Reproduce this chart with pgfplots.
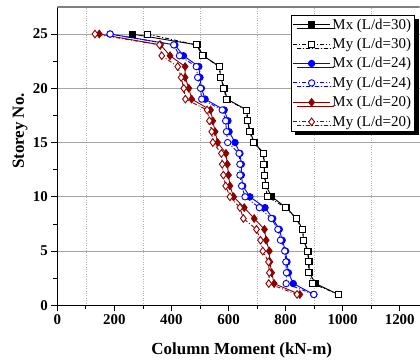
\documentclass[border=0pt]{standalone}
\usepackage{pgfplots}
\usepackage{pgfplotstable}
\pgfplotsset{compat=1.18}
\usepackage{fontspec}
\setmainfont{Liberation Serif}
\usetikzlibrary{shadows}
\definecolor{dred}{RGB}{140,0,0}
\definecolor{gblue}{RGB}{0,0,255}
\pgfplotstableread{
s mxa mya mxb myb mxc myc
1 985 986 899 899 850 840
2 905 895 827 802 760 741
3 883 881 810 803 751 743
4 882 881 805 801 745 740
5 879 877 800 797 743 720
6 863 862 788 782 732 712
7 860 858 778 773 726 698
8 839 837 755 750 690 652
9 802 800 728 708 655 640
10 752 737 675 658 618 605
11 731 729 650 646 605 590
12 727 726 645 640 600 582
13 725 723 645 640 596 578
14 724 722 640 637 591 575
15 690 688 623 597 562 545
16 676 674 602 593 553 541
17 668 667 598 590 545 533
18 664 662 585 578 537 525
19 595 592 518 506 471 449
20 586 584 505 502 461 443
21 572 571 500 492 448 434
22 569 567 496 487 448 422
23 511 510 442 428 395 366
24 490 487 412 408 362 358
25 262 315 185 185 147 132
}\data
\begin{document}
\begin{tikzpicture}
\begin{axis}[
  scale only axis, width=362.4bp, height=298.4bp,
  xmin=0, xmax=1270, ymin=0, ymax=27.5,
  axis x line*=bottom, axis y line*=left,
  axis line style={black, line width=0.8bp, -},
  xtick={0,200,...,1200}, ytick={0,5,...,25},
  minor x tick num=1, minor y tick num=1,
  tick align=outside, major tick length=6bp, minor tick length=4bp,
  tick style={black, line width=0.8bp},
  /pgf/number format/assume math mode=true,
  /pgf/number format/1000 sep={},
  tick label style={font=\bfseries\fontsize{15}{15}\selectfont},
  ymajorgrids, xminorgrids,
  major grid style={gray!70, line width=0.8bp},
  minor grid style={gray!60, dotted, line width=0.6bp},
  xlabel={Column Moment (kN-m)},
  ylabel={Storey No.},
  label style={font=\bfseries\fontsize{17}{17}\selectfont},
  xlabel style={at={(axis description cs:0.509,-0.151)}, anchor=center},
  ylabel style={at={(axis description cs:-0.103,0.584)}, anchor=center},
  legend style={at={(axis description cs:0.645,0.973)}, anchor=north west,
    font=\fontsize{15}{16}\selectfont, draw=black, fill=white,
    drop shadow={shadow xshift=4bp, shadow yshift=-4bp, fill=black, opacity=1},
    inner sep=1.5bp, row sep=3.6bp, legend cell align=left},
  legend image code/.code={\draw[mark repeat=2,mark phase=2] plot coordinates {(0cm,0cm)(0.65cm,0cm)(1.3cm,0cm)};},
  every axis plot/.append style={line width=0.9bp},
]
\addplot[black, mark=square*, mark size=3bp, mark options={solid, fill=black}] table[x=mxa, y=s]{\data};
\addlegendentry{Mx (L/d=30)}
\addplot[black, dash pattern=on 4pt off 2pt on 1pt off 2pt, mark=square*, mark size=3bp, mark options={solid, fill=white}] table[x=mya, y=s]{\data};
\addlegendentry{My (L/d=30)}
\addplot[gblue, mark=*, mark size=3.2bp, mark options={solid, fill=gblue}] table[x=mxb, y=s]{\data};
\addlegendentry{Mx (L/d=24)}
\addplot[gblue, dash pattern=on 4pt off 2pt on 1pt off 2pt, mark=*, mark size=3.2bp, mark options={solid, fill=white}] table[x=myb, y=s]{\data};
\addlegendentry{My (L/d=24)}
\addplot[dred, mark=diamond*, mark size=3.8bp, mark options={solid, fill=dred}] table[x=mxc, y=s]{\data};
\addlegendentry{Mx (L/d=20)}
\addplot[dred, dash pattern=on 4pt off 2pt on 1pt off 2pt, mark=diamond*, mark size=3.8bp, mark options={solid, fill=white}] table[x=myc, y=s]{\data};
\addlegendentry{My (L/d=20)}
\draw[gray, line width=1.3bp] (rel axis cs:0,1) -- (rel axis cs:1,1);
\coordinate (sw) at (rel axis cs:0,0);
\end{axis}
\pgfresetboundingbox
\path[use as bounding box] (sw) ++(-57.3bp,-56.7bp) rectangle ++(420bp,362bp);
\end{tikzpicture}
\end{document}
